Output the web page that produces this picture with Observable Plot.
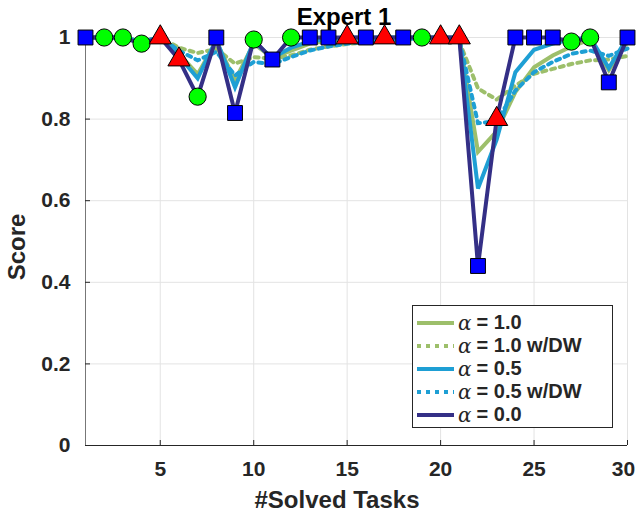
<!DOCTYPE html>
<html>
<head>
<meta charset="utf-8">
<script src="https://cdn.jsdelivr.net/npm/d3@7"></script>
<script src="https://cdn.jsdelivr.net/npm/@observablehq/plot@0.6"></script>
<style>
  body { margin: 0; background: #fff; }
  #wrap { position: relative; width: 637px; height: 514px; font-family: "Liberation Sans", Arial, sans-serif; color: #262626; overflow: hidden; }
  .ov { position: absolute; font-weight: bold; white-space: nowrap; line-height: 1; }
  #legend { position: absolute; left: 412px; top: 305px; width: 201px; height: 123px; border: 1px solid #262626; background: #fff; box-sizing: border-box; }
  .row { position: absolute; left: 4px; height: 23px; display: flex; align-items: center; }
  .row svg { width: 37px; height: 8px; margin-right: 4px; }
  .alpha { font-family: "DejaVu Serif", serif; font-style: italic; font-weight: normal; font-size: 20px; margin-right: 5px; }
  .lt { font-weight: bold; font-size: 20px; }
</style>
</head>
<body>
<div id="wrap">
  <div id="chart"></div>
  <div class="ov" id="title" style="left:344px; top:5px; font-size:24px; color:#000; transform:translateX(-50%);">Expert 1</div>
  <div class="ov" id="xlabel" style="left:337px; top:488px; font-size:24px; transform:translateX(-50%);">#Solved Tasks</div>
  <div class="ov" id="ylabel" style="left:17px; top:247px; font-size:24px; transform:translate(-50%,-50%) rotate(-90deg);">Score</div>
  <div id="legend"></div>
</div>
<script>
// ---- data ----
const tasks = [1,2,3,4,5,6,7,8,9,10,11,12,13,14,15,16,17,18,19,20,21,22,23,24,25,26,27,28,29,30];

const alpha10 =   [1,1,1,0.99,1, 0.96,0.91,0.99,0.895,0.985, 0.95,0.968,0.985,0.992,0.996, 0.998,1,1,1,1, 1,0.72,0.77,0.866,0.927, 0.956,0.978,0.995,0.92,0.99];
const alpha10DW = [1,1,1,0.99,1, 0.975,0.962,0.972,0.936,0.952, 0.948,0.956,0.97,0.978,0.984, 0.988,0.991,0.994,0.996,0.998, 0.99,0.875,0.848,0.882,0.911, 0.923,0.935,0.944,0.946,0.955];
const alpha05 =   [1,1,1,0.99,1, 0.955,0.9,0.995,0.878,0.99, 0.95,0.975,0.99,0.996,1, 1,1,1,1,1, 1,0.63,0.75,0.915,0.97, 0.985,0.995,1,0.925,1];
const alpha05DW = [1,1,1,0.99,1, 0.968,0.944,0.965,0.907,0.94, 0.935,0.952,0.968,0.978,0.985, 0.99,0.993,0.996,0.998,1, 0.995,0.79,0.795,0.87,0.915, 0.94,0.96,0.968,0.955,0.973];
const alpha00 =   [1,1,1,0.985,1, 0.946,0.855,1,0.815,0.995, 0.946,1,1,1,1, 1,1,1,1,1, 1,0.44,0.80,1,1, 1,0.99,1,0.89,1];

const markerTypes = ["square","circle","circle","circle","triangle","triangle","circle","square","square","circle",
                     "square","circle","square","square","triangle","square","triangle","square","circle","triangle",
                     "triangle","square","triangle","square","square","square","circle","circle","square","square"];

const seriesNames = ["α = 1.0", "α = 1.0 w/DW", "α = 0.5", "α = 0.5 w/DW", "α = 0.0"];
const seriesLabels = ["= 1.0", "= 1.0 w/DW", "= 0.5", "= 0.5 w/DW", "= 0.0"];
const seriesValues = [alpha10, alpha10DW, alpha05, alpha05DW, alpha00];
const seriesColors = ["#9dbf6b", "#9dbf6b", "#1e9fd4", "#1e9fd4", "#342f86"];
const seriesDash = [null, "4,5", null, "4,5", null];

const xTicks = [5,10,15,20,25,30];
const yTicks = [0,0.2,0.4,0.6,0.8,1];

const markerFill = {square: "#0000ff", circle: "#00ff00", triangle: "#ff0000"};
const markerR = {square: 8.4, circle: 8.6, triangle: 8.2};

// ---- build tables ----
const lineRows = seriesNames.map((name, s) => tasks.map((t, i) => ({task: t, score: seriesValues[s][i], series: name})));
const markerRows = tasks.map((t, i) => ({task: t, score: alpha00[i], type: markerTypes[i]}));

const fmt = d => String(+d.toFixed(1));
const lastX = xTicks[xTicks.length - 1];

const marks = [
  Plot.gridX(xTicks, {stroke: "#e3e3e3", strokeOpacity: 1}),
  Plot.gridY(yTicks, {stroke: "#e3e3e3", strokeOpacity: 1}),
  Plot.ruleX([1], {stroke: "#777"}),
  Plot.ruleY([0], {stroke: "#262626"}),
  Plot.axisX(xTicks, {tickSize: -5, tickFormat: () => "", label: null, stroke: "#262626"}),
  Plot.axisY(yTicks, {tickSize: -5, tickFormat: () => "", label: null, stroke: "#262626"}),
  Plot.axisX(xTicks.filter(t => t !== lastX), {tickSize: 0, tickPadding: 16, fontSize: 21, fontWeight: "bold", label: null, fill: "#262626"}),
  Plot.axisX([lastX], {tickSize: 0, tickPadding: 16, fontSize: 21, fontWeight: "bold", label: null, fill: "#262626", dx: -4}),
  Plot.axisY(yTicks, {tickSize: 0, tickPadding: 15, fontSize: 21, fontWeight: "bold", label: null, tickFormat: fmt, fill: "#262626"}),
];
seriesNames.forEach((name, s) => {
  marks.push(Plot.line(lineRows[s], {
    x: "task", y: "score", stroke: seriesColors[s], strokeWidth: 4,
    strokeDasharray: seriesDash[s] ?? undefined, strokeLinejoin: "miter", strokeMiterlimit: 3
  }));
});
["square", "circle", "triangle"].forEach(type => {
  marks.push(Plot.dot(markerRows.filter(d => d.type === type), {
    x: "task", y: "score", symbol: type, r: markerR[type],
    fill: markerFill[type], stroke: "#000", strokeWidth: 1
  }));
});

const chart = Plot.plot({
  width: 637, height: 514,
  marginLeft: 85, marginRight: 10, marginTop: 37, marginBottom: 69,
  x: {domain: [1, 30]},
  y: {domain: [0, 1]},
  style: {fontFamily: "Liberation Sans, Arial, sans-serif", background: "white", overflow: "visible"},
  marks
});
document.getElementById("chart").appendChild(chart);

// ---- legend ----
const legend = document.getElementById("legend");
seriesNames.forEach((name, s) => {
  const row = document.createElement("div");
  row.className = "row";
  row.style.top = (5 + 23 * s) + "px";
  const dash = seriesDash[s] ? `stroke-dasharray="${seriesDash[s]}"` : "";
  row.innerHTML = `<svg viewBox="0 0 37 8"><line x1="0" y1="4" x2="37" y2="4" stroke="${seriesColors[s]}" stroke-width="4" ${dash}/></svg>` +
    `<span class="alpha">α</span><span class="lt">${seriesLabels[s]}</span>`;
  row.title = name;
  legend.appendChild(row);
});
</script>
</body>
</html>
